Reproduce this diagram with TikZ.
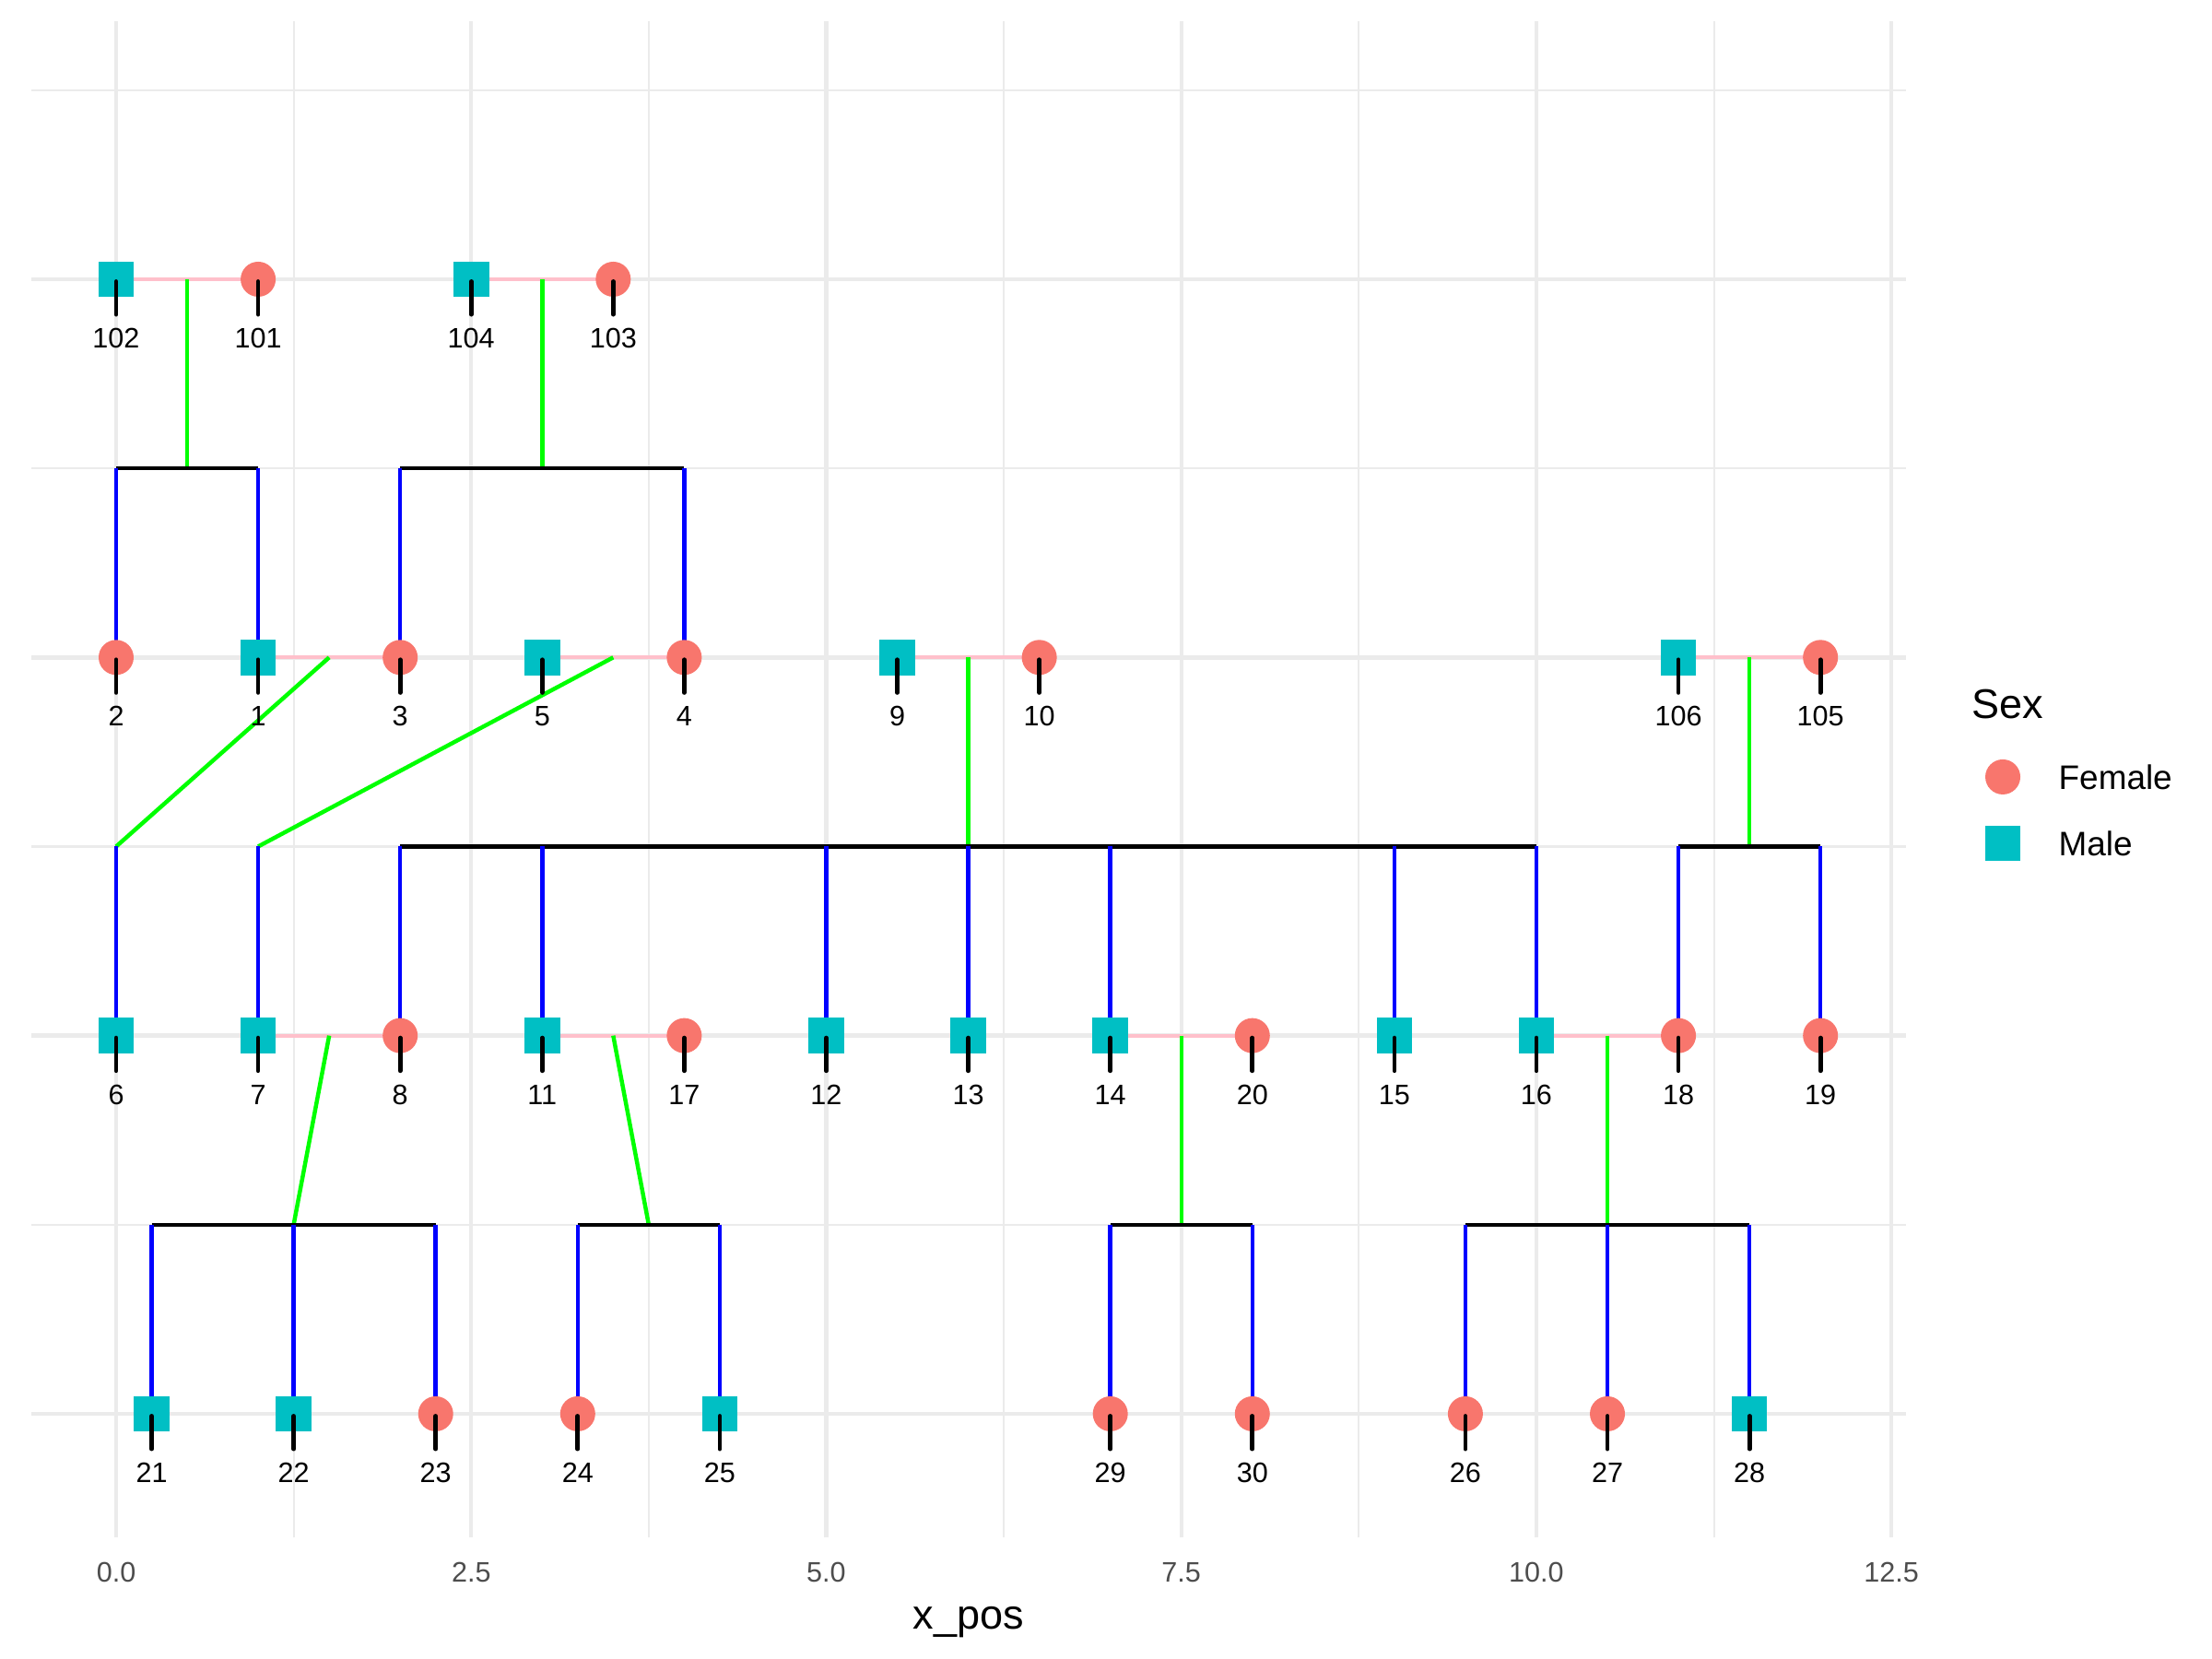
\documentclass[tikz,border=0pt]{standalone}
\usepackage{fontspec}
\setmainfont{Liberation Sans}
\pgfdeclarelayer{bg}
\pgfsetlayers{bg,main}
\definecolor{fcol}{HTML}{F8766D}
\definecolor{mcol}{HTML}{00BFC4}
\definecolor{pinkc}{HTML}{FFC0CB}
\definecolor{greenc}{HTML}{00FF00}
\definecolor{bluec}{HTML}{0000FF}
\definecolor{gridc}{HTML}{EBEBEB}
\definecolor{axc}{HTML}{4D4D4D}
\tikzset{
  fem/.style={circle, fill=fcol, minimum size=0.38cm, inner sep=0pt, draw=none},
  mal/.style={rectangle, fill=mcol, minimum size=0.385cm, inner sep=0pt, draw=none},
  spouse/.style={draw=pinkc, line width=1.2pt},
  desc/.style={draw=greenc, line width=1.27pt},
  sib/.style={draw=black, line width=1.27pt},
  kid/.style={draw=bluec, line width=1.27pt},
  tickmk/.style={draw=black, line width=1.35pt, line cap=round},
  lab/.style={anchor=base, inner sep=0pt, font=\fontsize{8.7}{10}\selectfont},
  axlab/.style={anchor=base, inner sep=0pt, text=axc, font=\fontsize{8.7}{10}\selectfont},
  majg/.style={draw=gridc, line width=1.27pt},
  ming/.style={draw=gridc, line width=0.63pt},
}
\newcommand\mkperson[5]{%
  \node[#2] (p#1) at (#3,#4) {};
  \draw[tickmk] (#3,#4-0.006) -- (#3,#4-0.093);
  \node[lab] (l#1) at (#3,#4-0.1816) {#5};
}
\begin{document}
\begin{tikzpicture}[x=1.541cm, y=4.1033cm]
\useasboundingbox (-0.8177,0.3517) rectangle (14.757,4.7384);
\begin{pgfonlayer}{bg}
\fill[white] (-0.8177,0.3517) rectangle (14.757,4.7384);
% grid
\foreach \yy in {1.5,2.5,3.5,4.5} \draw[ming] (-0.597,\yy) -- (12.6,\yy);
\foreach \xx in {1.25,3.75,6.25,8.75,11.25} \draw[ming] (\xx,0.673) -- (\xx,4.682);
\foreach \yy in {1,2,3,4} \draw[majg] (-0.597,\yy) -- (12.6,\yy);
\foreach \xx in {0,2.5,5,7.5,10,12.5} \draw[majg] (\xx,0.673) -- (\xx,4.682);
\end{pgfonlayer}

% generation 1
\mkperson{102}{mal}{0}{4}{102}
\mkperson{101}{fem}{1}{4}{101}
\mkperson{104}{mal}{2.5}{4}{104}
\mkperson{103}{fem}{3.5}{4}{103}
% generation 2
\mkperson{2}{fem}{0}{3}{2}
\mkperson{1}{mal}{1}{3}{1}
\mkperson{3}{fem}{2}{3}{3}
\mkperson{5}{mal}{3}{3}{5}
\mkperson{4}{fem}{4}{3}{4}
\mkperson{9}{mal}{5.5}{3}{9}
\mkperson{10}{fem}{6.5}{3}{10}
\mkperson{106}{mal}{11}{3}{106}
\mkperson{105}{fem}{12}{3}{105}
% generation 3
\mkperson{6}{mal}{0}{2}{6}
\mkperson{7}{mal}{1}{2}{7}
\mkperson{8}{fem}{2}{2}{8}
\mkperson{11}{mal}{3}{2}{11}
\mkperson{17}{fem}{4}{2}{17}
\mkperson{12}{mal}{5}{2}{12}
\mkperson{13}{mal}{6}{2}{13}
\mkperson{14}{mal}{7}{2}{14}
\mkperson{20}{fem}{8}{2}{20}
\mkperson{15}{mal}{9}{2}{15}
\mkperson{16}{mal}{10}{2}{16}
\mkperson{18}{fem}{11}{2}{18}
\mkperson{19}{fem}{12}{2}{19}
% generation 4
\mkperson{21}{mal}{0.25}{1}{21}
\mkperson{22}{mal}{1.25}{1}{22}
\mkperson{23}{fem}{2.25}{1}{23}
\mkperson{24}{fem}{3.25}{1}{24}
\mkperson{25}{mal}{4.25}{1}{25}
\mkperson{29}{fem}{7}{1}{29}
\mkperson{30}{fem}{8}{1}{30}
\mkperson{26}{fem}{9.5}{1}{26}
\mkperson{27}{fem}{10.5}{1}{27}
\mkperson{28}{mal}{11.5}{1}{28}

% couple and sibship points
\coordinate (c1) at (0.5,4);   \coordinate (s1) at (0.5,3.5);
\coordinate (c2) at (3,4);     \coordinate (s2) at (3,3.5);
\coordinate (c3) at (1.5,3);   \coordinate (s3) at (0,2.5);
\coordinate (c4) at (3.5,3);   \coordinate (s4) at (1,2.5);
\coordinate (c5) at (6,3);     \coordinate (s5) at (6,2.5);
\coordinate (c6) at (11.5,3);  \coordinate (s6) at (11.5,2.5);
\coordinate (c7) at (1.5,2);   \coordinate (s7) at (1.25,1.5);
\coordinate (c8) at (3.5,2);   \coordinate (s8) at (3.75,1.5);
\coordinate (c9) at (7.5,2);   \coordinate (s9) at (7.5,1.5);
\coordinate (c10) at (10.5,2); \coordinate (s10) at (10.5,1.5);

\begin{pgfonlayer}{bg}
% spouse lines
\draw[spouse] (p102.center) -- (p101.center);
\draw[spouse] (p104.center) -- (p103.center);
\draw[spouse] (p1.center) -- (p3.center);
\draw[spouse] (p5.center) -- (p4.center);
\draw[spouse] (p9.center) -- (p10.center);
\draw[spouse] (p106.center) -- (p105.center);
\draw[spouse] (p7.center) -- (p8.center);
\draw[spouse] (p11.center) -- (p17.center);
\draw[spouse] (p14.center) -- (p20.center);
\draw[spouse] (p16.center) -- (p18.center);
% descent lines
\foreach \i in {1,...,10} \draw[desc] (c\i) -- (s\i);
% sibship lines
\draw[sib] (p2|-s1) -- (p1|-s1);
\draw[sib] (p3|-s2) -- (p4|-s2);
\draw[sib] (p8|-s5) -- (p16|-s5);
\draw[sib] (p18|-s6) -- (p19|-s6);
\draw[sib] (p21|-s7) -- (p23|-s7);
\draw[sib] (p24|-s8) -- (p25|-s8);
\draw[sib] (p29|-s9) -- (p30|-s9);
\draw[sib] (p26|-s10) -- (p28|-s10);
% child lines
\foreach \k/\s in {2/s1,1/s1,3/s2,4/s2,6/s3,7/s4,8/s5,11/s5,12/s5,13/s5,14/s5,15/s5,16/s5,18/s6,19/s6,21/s7,22/s7,23/s7,24/s8,25/s8,29/s9,30/s9,26/s10,27/s10,28/s10}
  \draw[kid] (p\k|-\s) -- (p\k.center);
\end{pgfonlayer}

% axis
\foreach \xx/\tt in {0/0.0,2.5/2.5,5/5.0,7.5/7.5,10/10.0,12.5/12.5}
  \node[axlab] at (\xx,0.5548) {\tt};
\node[anchor=base, inner sep=0pt, font=\fontsize{12.8}{15}\selectfont] (xtitle) at (6.0,0.4297) {x\_pos};

% legend
\node[anchor=base west, inner sep=0pt, font=\fontsize{12.8}{15}\selectfont] (legtitle) at (13.063,2.8375) {Sex};
\node[fem] (legf) at (13.284,2.684) {};
\node[mal] (legm) at (13.284,2.5085) {};
\node[anchor=base west, inner sep=0pt, font=\fontsize{10.5}{12}\selectfont] (legft) at (13.673,2.651) {Female};
\node[anchor=base west, inner sep=0pt, font=\fontsize{10.5}{12}\selectfont] (legmt) at (13.673,2.4756) {Male};
\end{tikzpicture}
\end{document}
